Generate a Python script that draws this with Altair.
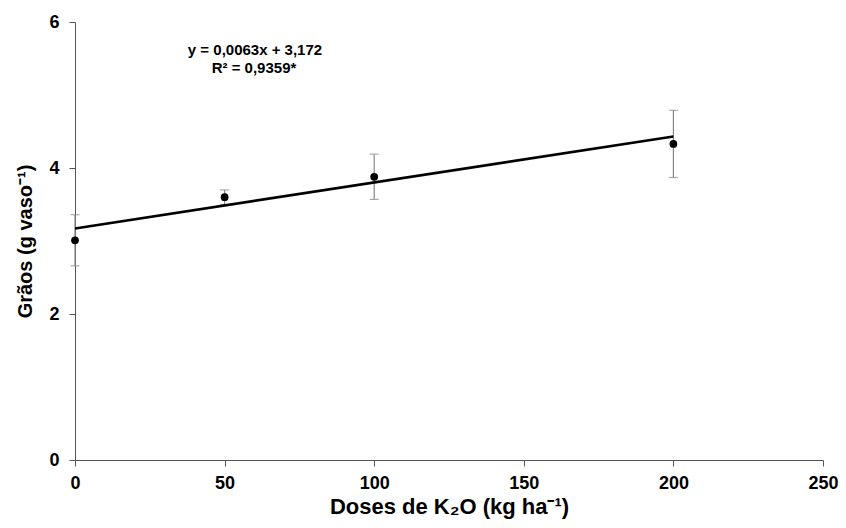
import altair as alt
import pandas as pd

doses = [0, 50, 100, 200]
graos = [3.01, 3.60, 3.88, 4.33]
erro = [0.35, 0.10, 0.31, 0.46]

fit_x = [0, 200]
slope = 0.0063
intercept = 3.172
eq_lines = ["y = 0,0063x + 3,172", "R² = 0,9359*"]

df = pd.DataFrame({"dose": doses, "graos": graos, "erro": erro})
df["lo"] = df["graos"] - df["erro"]
df["hi"] = df["graos"] + df["erro"]
fit = pd.DataFrame({"dose": fit_x, "graos": [slope * v + intercept for v in fit_x]})

FONT = "Liberation Sans"

xscale = alt.Scale(domain=[0, 250], nice=False, zero=True)
yscale = alt.Scale(domain=[0, 6], nice=False)

xaxis = alt.Axis(values=[0, 50, 100, 150, 200, 250], format="d", title="Doses de K₂O (kg ha⁻¹)",
                 labelFont=FONT, labelFontSize=18, labelFontWeight="bold", labelColor="black",
                 titleFont=FONT, titleFontSize=22, titleFontWeight="bold", titleColor="black",
                 titlePadding=4, labelPadding=8, tickSize=6, domainColor="#555", tickColor="#555",
                 grid=False, labelFlush=False)
yaxis = alt.Axis(values=[0, 2, 4, 6], format="d", title="Grãos (g vaso⁻¹)",
                 labelFont=FONT, labelFontSize=18, labelFontWeight="bold", labelColor="black",
                 titleFont=FONT, titleFontSize=20, titleFontWeight="bold", titleColor="black",
                 titlePadding=13, labelPadding=10, tickSize=6, domainColor="#555", tickColor="#555",
                 grid=False)

base = alt.Chart(df)

bars = base.mark_rule(color="#888", strokeWidth=1.2).encode(
    x=alt.X("dose:Q", scale=xscale, axis=xaxis),
    y=alt.Y("lo:Q", scale=yscale, axis=yaxis),
    y2="hi:Q",
)
cap_hi = base.mark_tick(color="#888", thickness=1.2, size=9, orient="horizontal").encode(
    x=alt.X("dose:Q", scale=xscale), y=alt.Y("hi:Q", scale=yscale))
cap_lo = base.mark_tick(color="#888", thickness=1.2, size=9, orient="horizontal").encode(
    x=alt.X("dose:Q", scale=xscale), y=alt.Y("lo:Q", scale=yscale))

line = alt.Chart(fit).mark_line(color="black", strokeWidth=2.6).encode(
    x=alt.X("dose:Q", scale=xscale), y=alt.Y("graos:Q", scale=yscale))

pts = base.mark_circle(color="black", opacity=1, size=60).encode(
    x=alt.X("dose:Q", scale=xscale), y=alt.Y("graos:Q", scale=yscale))

txt1 = alt.Chart(pd.DataFrame({"t": [eq_lines[0]]})).mark_text(
    font=FONT, fontSize=15, fontWeight="bold", color="black", align="center", baseline="middle"
).encode(text="t:N", x=alt.value(180), y=alt.value(28))
txt2 = alt.Chart(pd.DataFrame({"t": [eq_lines[1]]})).mark_text(
    font=FONT, fontSize=15, fontWeight="bold", color="black", align="center", baseline="middle"
).encode(text="t:N", x=alt.value(179), y=alt.value(46))

chart = alt.layer(bars, cap_hi, cap_lo, line, pts, txt1, txt2).properties(
    width=748, height=438,
    autosize=alt.AutoSizeParams(type="none"),
    padding={"left": 67, "top": 14, "right": 15, "bottom": 60},
    background="white",
).configure_view(stroke=None)

chart.save("out.html", embed_options={"renderer": "svg", "actions": False})
